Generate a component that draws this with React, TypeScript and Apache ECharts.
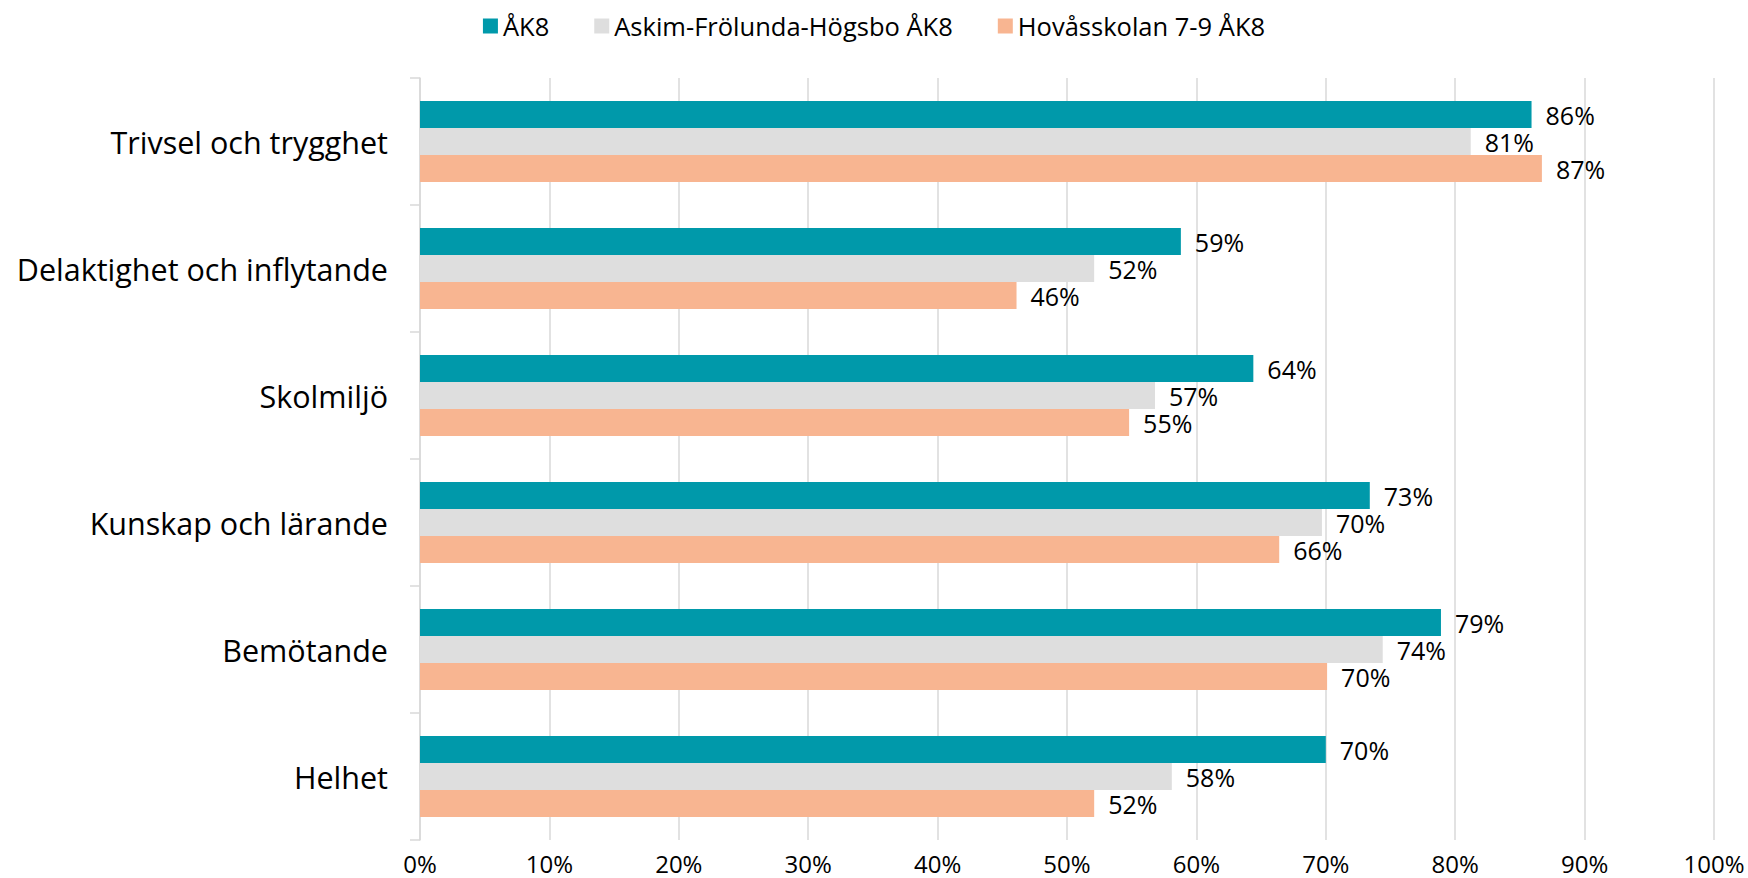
import React, { useEffect, useRef } from "react";
import * as echarts from "echarts";

const categories = [
  "Trivsel och trygghet",
  "Delaktighet och inflytande",
  "Skolmiljö",
  "Kunskap och lärande",
  "Bemötande",
  "Helhet",
];
const seriesNames = ["ÅK8", "Askim-Frölunda-Högsbo ÅK8", "Hovåsskolan 7-9 ÅK8"];
const ak8 = [0.859, 0.588, 0.644, 0.734, 0.789, 0.700];
const district = [0.812, 0.521, 0.568, 0.697, 0.744, 0.581];
const school = [0.867, 0.461, 0.548, 0.664, 0.701, 0.521];
const colors = ["#0099AA", "#DEDEDE", "#F8B591"];
const FONT = "'Open Sans', sans-serif";

export default function App() {
  const ref = useRef<HTMLDivElement>(null);
  useEffect(() => {
    if (!ref.current) return;
    const chart = echarts.init(ref.current, undefined, { renderer: "svg" });
    const dataSets = [ak8, district, school];
    chart.setOption({
      animation: false,
      textStyle: { fontFamily: FONT },
      legend: {
        top: 8,
        left: "center",
        itemWidth: 15,
        itemHeight: 15,
        itemGap: 45,
        icon: "rect",
        textStyle: { fontSize: 25.5, color: "#000", fontFamily: FONT },
        data: seriesNames,
      },
      grid: { left: 420, right: 34, top: 78, bottom: 38, containLabel: false },
      xAxis: {
        type: "value",
        min: 0,
        max: 1,
        interval: 0.1,
        axisLine: { show: false },
        axisTick: { show: false },
        splitLine: { show: true, lineStyle: { color: "#D9D9D9", width: 1.5 } },
        axisLabel: {
          fontSize: 24,
          lineHeight: 20,
          color: "#000",
          margin: 13,
          fontFamily: FONT,
          formatter: (v: number) => Math.round(v * 100) + "%",
        },
      },
      yAxis: {
        type: "category",
        inverse: true,
        data: categories,
        axisLine: { show: true, lineStyle: { color: "#D9D9D9", width: 1.5 } },
        axisTick: { show: true, length: 10, lineStyle: { color: "#D9D9D9", width: 1.5 } },
        axisLabel: { fontSize: 30.5, color: "#000", margin: 32, fontFamily: FONT },
      },
      series: dataSets.map((d, i) => ({
        name: seriesNames[i],
        type: "bar",
        data: d,
        barWidth: 27,
        barGap: "0%",
        barCategoryGap: "34%",
        itemStyle: { color: colors[i] },
        label: {
          show: true,
          position: "right",
          distance: 14,
          fontSize: 25,
          color: "#000",
          fontFamily: FONT,
          formatter: (p: any) => Math.round(p.value * 100) + "%",
        },
      })),
    });
    return () => chart.dispose();
  }, []);
  return (
    <div
      ref={ref}
      style={{ position: "fixed", left: 0, top: 0, width: 1748, height: 878, background: "#fff" }}
    />
  );
}
